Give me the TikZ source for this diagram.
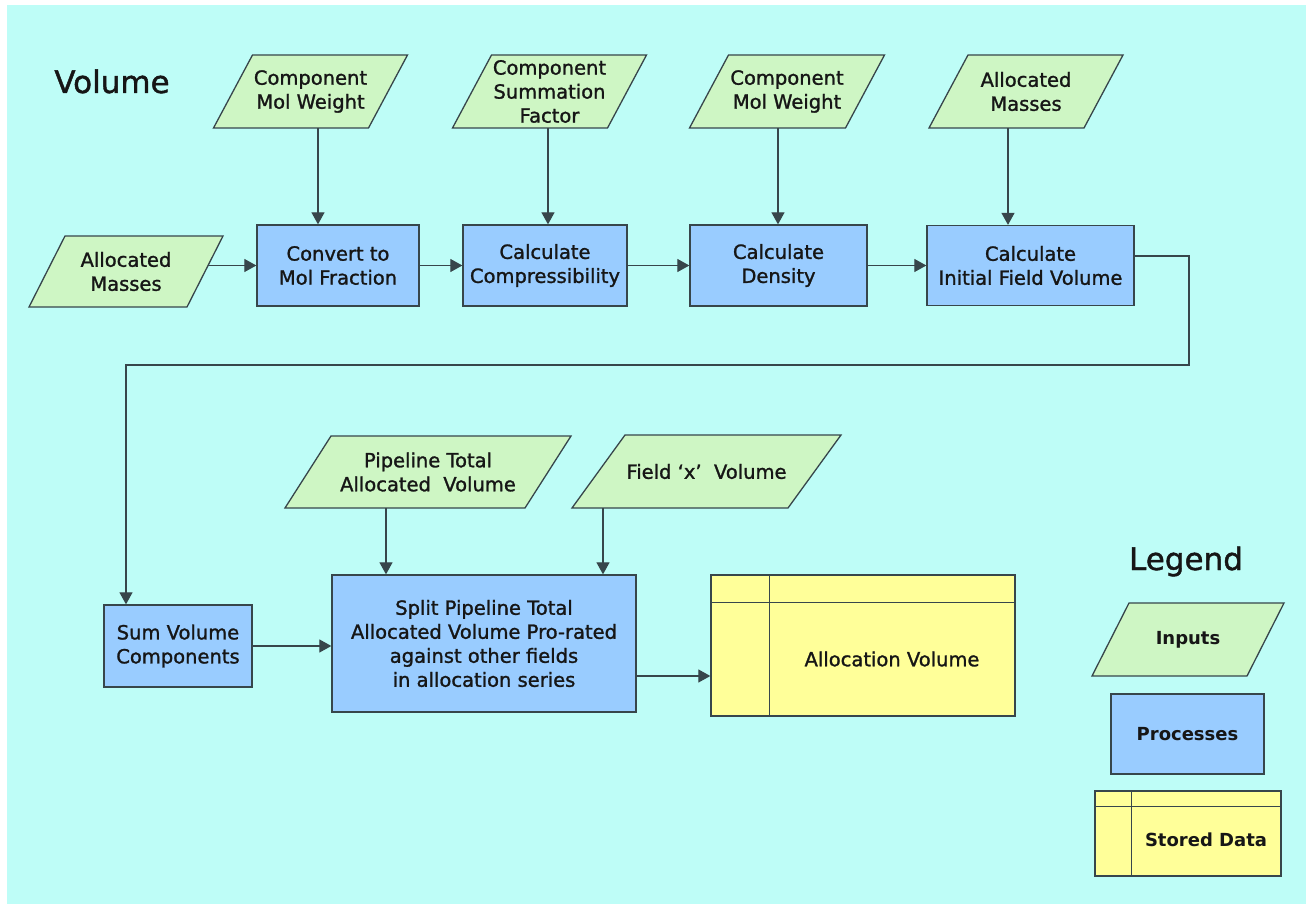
\documentclass[tikz,border=0pt]{standalone}
\usepackage{fontspec}
\setmainfont{DejaVu Sans}[UprightFeatures={FakeBold=1.3}]
\usetikzlibrary{arrows.meta}

\definecolor{bgc}{RGB}{190,253,247}
\definecolor{inpfill}{RGB}{206,246,196}
\definecolor{procfill}{RGB}{153,204,255}
\definecolor{storefill}{RGB}{255,255,153}
\definecolor{edgec}{RGB}{55,70,75}
\definecolor{ink}{RGB}{22,22,22}

% input parallelogram: name, centre x, centre y, edge length, slant, height, text
\newcommand\inputshape[7]{%
  \path[inpshape] ({#2-#4/2+#5/2},{#3-#6/2}) -- ({#2+#4/2+#5/2},{#3-#6/2})
     -- ({#2+#4/2-#5/2},{#3+#6/2}) -- ({#2-#4/2-#5/2},{#3+#6/2}) -- cycle;
  \node[txt, minimum width=#4pt+#5pt, minimum height=#6pt] (#1) at (#2,#3) {#7};}

\begin{document}
\begin{tikzpicture}[x=1pt,y=-1pt,
  txt/.style={font=\fontsize{19.5}{24}\selectfont, text=ink, align=center, inner sep=0pt},
  bigtxt/.style={font=\fontsize{31}{36}\selectfont, text=ink, inner sep=0pt},
  legtxt/.style={font=\fontsize{18}{23}\selectfont\bfseries, text=ink, align=center, inner sep=0pt},
  inpshape/.style={draw=edgec, fill=inpfill, line width=1.3pt, line join=miter},
  procbox/.style={txt, rectangle, draw=edgec, fill=procfill, line width=1.3pt},
  storebox/.style={rectangle, draw=edgec, fill=storefill, line width=1.3pt, inner sep=0pt},
  rule/.style={draw=edgec, line width=1.3pt},
  arr/.style={draw=edgec, line width=1.2pt, -{Triangle[length=12pt,width=13pt]}},
]
\useasboundingbox (0,0) rectangle (1306,904);
\fill[white] (0,0) rectangle (1306,904);
\fill[bgc] (7,5) rectangle (1306,904);

% titles
\node[bigtxt, anchor=base] (title) at (112,93) {Volume};
\node[bigtxt, anchor=base] (legend) at (1186,570) {Legend};

% top row of inputs
\inputshape{cmw1}{310.5}{91.5}{155}{39}{73}{Component\\Mol Weight}
\inputshape{csf}{549.5}{91.5}{155}{39}{73}{Component\\Summation\\Factor}
\inputshape{cmw2}{787}{91.5}{156}{39}{73}{Component\\Mol Weight}
\inputshape{am2}{1026}{91.5}{155}{39}{73}{Allocated\\Masses}
\inputshape{am1}{126}{271.5}{158}{36}{71}{Allocated\\Masses}

% top row of processes
\node[procbox, minimum width=162pt, minimum height=81pt] (conv) at (338,265.5) {Convert to\\Mol Fraction};
\node[procbox, minimum width=164pt, minimum height=81pt] (comp) at (545,265.5) {Calculate\\Compressibility};
\node[procbox, minimum width=177pt, minimum height=81pt] (dens) at (778.5,265.5) {Calculate\\Density};
\node[procbox, minimum width=207pt, minimum height=80pt] (ifv)  at (1030.5,265.5) {Calculate\\Initial Field Volume};

% lower row
\node[procbox, minimum width=148pt, minimum height=82pt] (sum) at (178,646) {Sum Volume\\Components};
\node[procbox, minimum width=304pt, minimum height=137pt] (split) at (484,643.5)
  {Split Pipeline Total\\Allocated Volume Pro-rated\\against other fields\\in allocation series};
\inputshape{ptav}{428}{472}{240}{46}{72}{Pipeline Total\\Allocated\ \ Volume}
\inputshape{fxv}{706.5}{471.5}{216}{53}{73}{Field `x'\ \ Volume}

% stored data
\node[storebox, minimum width=304pt, minimum height=141pt] (av) at (863,645.5) {};
\draw[rule] ([yshift=-28pt]av.north west) -- ([yshift=-28pt]av.north east);
\draw[rule] ([xshift=59pt]av.north west) -- ([xshift=59pt]av.south west);
\node[txt] (avtext) at (892,659) {Allocation Volume};

% legend
\inputshape{leginp}{1188}{639.5}{155}{37}{73}{}
\node[legtxt] (leginptxt) at (1188,639.5) {Inputs};
\node[procbox, minimum width=153pt, minimum height=80pt] (legproc) at (1187.5,734) {};
\node[legtxt] (legproctxt) at (1187.5,734) {Processes};
\node[storebox, minimum width=186pt, minimum height=85pt] (legstore) at (1188,833.5) {};
\draw[rule] ([yshift=-16pt]legstore.north west) -- ([yshift=-16pt]legstore.north east);
\draw[rule] ([xshift=37pt]legstore.north west) -- ([xshift=37pt]legstore.south west);
\node[legtxt] (legstoretxt) at (1206,840) {Stored Data};

% connectors: inputs to processes
\draw[arr] (318,0 |- cmw1.south) -- (318,0 |- conv.north);
\draw[arr] (548,0 |- csf.south)  -- (548,0 |- comp.north);
\draw[arr] (778,0 |- cmw2.south) -- (778,0 |- dens.north);
\draw[arr] (1008,0 |- am2.south) -- (1008,0 |- ifv.north);
\draw[arr] (208,0 |- conv.west) -- (conv.west);

% process chain
\draw[arr] (conv.east) -- (comp.west);
\draw[arr] (comp.east) -- (dens.west);
\draw[arr] (dens.east) -- (ifv.west);

% return line to the lower row
\coordinate (r1) at (1189,256);
\coordinate (r2) at (1189,365);
\coordinate (r3) at (126,365);
\draw[arr] (ifv.east |- r1) -- (r1) -- (r2) -- (r3) -- (r3 |- sum.north);

% lower row connectors
\draw[arr] (sum.east) -- (sum.east -| split.west);
\draw[arr] (386,0 |- ptav.south) -- (386,0 |- split.north);
\draw[arr] (603,0 |- fxv.south)  -- (603,0 |- split.north);
\coordinate (s1) at (0,676);
\draw[arr] (split.east |- s1) -- (av.west |- s1);
\end{tikzpicture}
\end{document}
